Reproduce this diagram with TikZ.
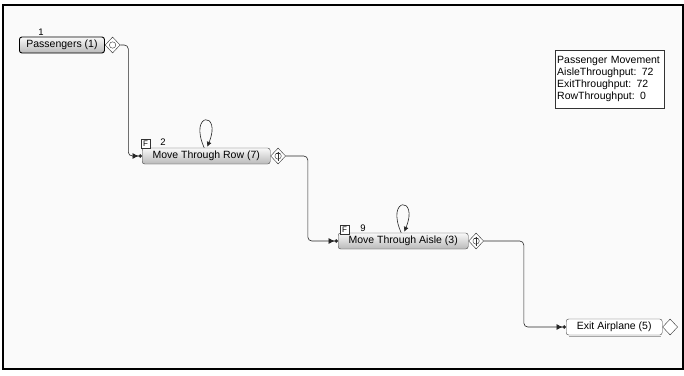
\documentclass[tikz,border=0pt]{standalone}
\usepackage{fontspec}
\setmainfont{Liberation Sans}
\usetikzlibrary{shapes.geometric,arrows.meta}
\begin{document}
\begin{tikzpicture}[x=1pt,y=-1pt,
 font=\fontsize{10.5}{12}\selectfont,
 proc/.style={draw=black!75, rounded corners=2.5pt, top color=gray!5, bottom color=gray!55, minimum height=16pt, inner sep=0pt, anchor=west},
 dia/.style={diamond, draw=black!80, fill=white, minimum width=15pt, minimum height=16pt, inner sep=0pt, anchor=west},
 fbox/.style={draw=black!80, fill=white, minimum size=9pt, inner sep=0pt, font=\fontsize{8}{8}\selectfont},
 conn/.style={draw=black!85, line width=0.6pt, rounded corners=4pt},
 tip/.style={-{Latex[length=6pt,width=6pt]Circle[length=3.5pt]}},
 looptip/.style={-{Latex[length=5pt,width=5pt]}},
 lbl/.style={inner sep=0pt, font=\fontsize{9.5}{9.5}\selectfont},
]
\useasboundingbox (0,0) rectangle (684,375);
\draw[line width=1.8pt, fill=gray!4] (3,5) rectangle (683,369);

% Passengers
\node[proc, minimum width=85pt, draw=black, line width=0.9pt] (pass) at (19,45) {Passengers (1)};
\node[dia] (passd) at (pass.east) {};
\draw[black!80] (passd.center) circle (3.2pt);
\node[lbl] (passn) at (41,32) {1};

% Move Through Row
\node[proc, minimum width=128pt] (row) at (142,156) {Move Through Row (7)};
\node[dia] (rowd) at (row.east) {};
\draw[black!80] (rowd.center) circle (3.2pt);
\draw[black!80] ([yshift=4.5pt]rowd.center) -- ([yshift=-4.5pt]rowd.center);
\draw[black!80] ([xshift=-2pt,yshift=2.5pt]rowd.center) -- ([xshift=2pt,yshift=2.5pt]rowd.center);
\node[fbox] (rowf) at (145.5,143.5) {F};
\node[lbl] (rown) at (163,142) {2};
\draw[conn, looptip] ([xshift=-2pt]row.north) .. controls +(-16,-36) and +(15,-36) .. ([xshift=1pt,yshift=1pt]row.north);

% Move Through Aisle
\node[proc, minimum width=130pt] (aisle) at (338,241) {Move Through Aisle (3)};
\node[dia] (aisled) at (aisle.east) {};
\draw[black!80] (aisled.center) circle (3.2pt);
\draw[black!80] ([yshift=4.5pt]aisled.center) -- ([yshift=-4.5pt]aisled.center);
\draw[black!80] ([xshift=-2pt,yshift=2.5pt]aisled.center) -- ([xshift=2pt,yshift=2.5pt]aisled.center);
\node[fbox] (aislef) at (344.5,229.5) {F};
\node[lbl] (aislen) at (363,228) {9};
\draw[conn, looptip] ([xshift=-2pt]aisle.north) .. controls +(-16,-36) and +(15,-36) .. ([xshift=1pt,yshift=1pt]aisle.north);

% Exit Airplane
\draw[gray!70, line width=1.6pt] (569,336.5) -- (661,336.5);
\node[proc, minimum width=96pt, top color=white, bottom color=white] (exit) at (566,327) {Exit Airplane (5)};
\node[dia] (exitd) at (exit.east) {};

% connectors
\draw[conn, tip] (passd.east) -- ++(8,0) |- (row.west);
\draw[conn, tip] (rowd.east) -- ++(22,0) |- (aisle.west);
\draw[conn, tip] (aisled.east) -- ++(40,0) |- (exit.west);

% info box
\node[draw=black!80, fill=white, align=left, anchor=north west, inner sep=2pt, text width=105pt, minimum height=58pt] (info) at (555,50) {Passenger Movement\\AisleThroughput: 72\\ExitThroughput: 72\\RowThroughput: 0};
\end{tikzpicture}
\end{document}
